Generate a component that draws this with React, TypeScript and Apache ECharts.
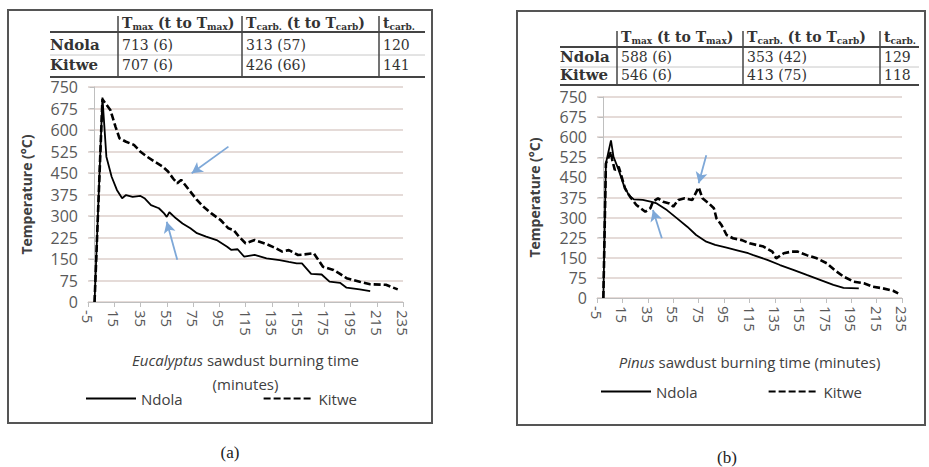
import React, { useEffect, useRef } from "react";
import * as echarts from "echarts";

// ---------- data ----------
const xTicksMin = -5;
const xTicksMax = 235;
const xTickStep = 20;
const yMin = 0;
const yMax = 750;
const yStep = 75;

// Eucalyptus sawdust (panel a): [minutes, °C]
const eucNdola: number[][] = [
  [0, 0], [6, 713], [9, 507], [13, 437], [17, 391], [21, 362], [24, 373], [29, 367], [35, 370],
  [38, 362], [43, 338], [49, 327], [53, 309], [55, 297], [57, 313], [62, 292], [67, 274],
  [73, 257], [78, 240], [85, 228], [93, 216], [101, 193], [104, 182], [109, 184], [114, 158],
  [122, 164], [131, 152], [141, 146], [148, 140], [154, 135], [158, 135], [165, 98], [173, 96],
  [179, 71], [187, 67], [192, 50], [202, 44], [210, 38],
];
const eucKitwe: number[][] = [
  [0, 0], [6, 707], [12, 670], [16, 611], [19, 571], [24, 559], [30, 548], [35, 524], [40, 507],
  [46, 489], [52, 472], [56, 455], [60, 430], [63, 414], [66, 426], [72, 391], [78, 356],
  [83, 332], [89, 309], [96, 286], [102, 257], [106, 251], [110, 228], [115, 205], [122, 216],
  [131, 202], [137, 190], [143, 176], [148, 181], [155, 164], [160, 166], [167, 170], [174, 123],
  [182, 112], [187, 98], [192, 83], [202, 71], [210, 62], [222, 60], [231, 44],
];

// Pinus sawdust (panel b): [minutes, °C]
const pinNdola: number[][] = [
  [0, 0], [2, 502], [6, 588], [8, 527], [12, 478], [16, 422], [20, 384], [24, 368], [31, 366],
  [38, 359], [42, 353], [50, 328], [58, 297], [66, 266], [73, 235], [81, 210], [88, 198],
  [97, 188], [106, 177], [114, 167], [118, 160], [129, 142], [139, 123], [150, 104], [160, 86],
  [171, 67], [181, 49], [189, 38], [201, 36],
];
const pinKitwe: number[][] = [
  [0, 0], [2, 502], [6, 546], [7, 515], [9, 478], [12, 490], [14, 459], [17, 409], [21, 378],
  [26, 347], [33, 322], [37, 335], [39, 359], [43, 372], [47, 359], [52, 353], [55, 341],
  [59, 366], [64, 372], [70, 366], [75, 413], [78, 372], [83, 353], [87, 335], [89, 297],
  [93, 272], [97, 235], [102, 223], [109, 216], [115, 204], [126, 192], [133, 173], [136, 148],
  [142, 167], [148, 173], [153, 173], [160, 160], [168, 148], [176, 129], [182, 104], [189, 80],
  [197, 61], [205, 55], [212, 42], [220, 36], [228, 27], [232, 17],
];

// annotation arrows in data coordinates: [tailT, tailTemp, headT, headTemp]
const eucArrows: number[][] = [
  [102, 542, 74, 449],
  [63, 147, 55, 280],
];
const pinArrows: number[][] = [
  [81, 533, 75, 428],
  [46, 223, 39, 328],
];

const seriesNames = ["Ndola", "Kitwe"];

// summary tables
const tableHeaders = ["T_max (t to T_max)", "T_carb. (t to T_carb)", "t_carb."];
const eucTable = [
  ["Ndola", "713 (6)", "313 (57)", "120"],
  ["Kitwe", "707 (6)", "426 (66)", "141"],
];
const pinTable = [
  ["Ndola", "588 (6)", "353 (42)", "129"],
  ["Kitwe", "546 (6)", "413 (75)", "118"],
];

const eucXName = "{i|Eucalyptus} sawdust burning time\n(minutes)";
const pinXName = "{i|Pinus} sawdust burning time (minutes)";
const yName = "Temperature (°C)";

// ---------- helpers ----------
const SANS = "Open Sans";
const SERIF = "DejaVu Serif";
const LABEL = "#595959";
const AXIS = "#bfbfbf";
const GRIDC = "#dccfcb";
const ARROW = "#7ea8d8";

function headerRich(h: string): string {
  const parts = h.split(/(_[a-z.]+)/);
  return parts
    .filter((p) => p.length > 0)
    .map((p) => (p.startsWith("_") ? `{s|${p.slice(1)}}` : `{b|${p}}`))
    .join("");
}

function tableGraphics(
  x0: number,
  vx: number[],
  right: number,
  yTop: number,
  yHead: number,
  yRows: number[],
  yLines: number[],
  rows: string[][]
): any[] {
  const els: any[] = [];
  const rich = {
    b: { fontFamily: SERIF, fontSize: 14, fontWeight: "bold", fill: "#333", lineHeight: 18, verticalAlign: "middle" },
    s: { fontFamily: SERIF, fontSize: 9, fontWeight: "bold", fill: "#333", lineHeight: 18, verticalAlign: "bottom", padding: [0, 0, 1, 0] },
  };
  tableHeaders.forEach((h, i) => {
    els.push({
      type: "text",
      x: vx[i] + 4,
      y: yHead,
      style: { text: headerRich(h), rich, textVerticalAlign: "middle", verticalAlign: "middle" },
    });
  });
  rows.forEach((r, ri) => {
    r.forEach((cell, ci) => {
      els.push({
        type: "text",
        x: ci === 0 ? x0 : vx[ci - 1] + 4,
        y: yRows[ri],
        style: {
          text: cell,
          fontFamily: SERIF,
          fontSize: ci === 0 ? 15 : 14,
          fontWeight: ci === 0 ? "bold" : "normal",
          fill: "#333",
          textVerticalAlign: "middle",
          verticalAlign: "middle",
        },
      });
    });
  });
  els.push({ type: "line", shape: { x1: x0, y1: yLines[0], x2: right, y2: yLines[0] }, style: { stroke: "#444", lineWidth: 2 } });
  els.push({ type: "line", shape: { x1: x0, y1: yLines[1], x2: right, y2: yLines[1] }, style: { stroke: "#c8c8c8", lineWidth: 1 } });
  els.push({ type: "line", shape: { x1: x0, y1: yLines[2], x2: right, y2: yLines[2] }, style: { stroke: "#444", lineWidth: 2 } });
  vx.forEach((x) => {
    els.push({ type: "line", shape: { x1: x, y1: yTop, x2: x, y2: yLines[2] }, style: { stroke: "#444", lineWidth: 1.5 } });
  });
  return els;
}

function xAxisOf(gridIndex: number, name: string, nameGap: number): any {
  return {
    type: "value",
    gridIndex,
    min: xTicksMin,
    max: xTicksMax,
    interval: xTickStep,
    name,
    nameLocation: "middle",
    nameGap,
    nameTextStyle: {
      fontFamily: SANS,
      fontSize: 15,
      color: "#404040",
      lineHeight: 24,
      rich: { i: { fontFamily: SANS, fontSize: 15, fontStyle: "italic", color: "#404040", lineHeight: 24 } },
    },
    axisLine: { show: true, onZero: true, lineStyle: { color: AXIS, width: 1 } },
    axisTick: { show: true, length: 5, lineStyle: { color: AXIS } },
    axisLabel: { rotate: -90, color: LABEL, fontFamily: SANS, fontSize: 15, margin: 8 },
    splitLine: { show: false },
  };
}

function yAxisOf(gridIndex: number, nameGap: number): any {
  return {
    type: "value",
    gridIndex,
    min: yMin,
    max: yMax,
    interval: yStep,
    name: yName,
    nameLocation: "middle",
    nameGap,
    nameTextStyle: { fontFamily: SANS, fontSize: 14, fontWeight: "bold", color: "#404040" },
    axisLine: { show: true, onZero: true, lineStyle: { color: AXIS, width: 1 } },
    axisTick: { show: true, length: 5, lineStyle: { color: AXIS } },
    axisLabel: { color: LABEL, fontFamily: SANS, fontSize: 16, margin: 10 },
    splitLine: { show: true, lineStyle: { color: GRIDC, width: 1.5 } },
  };
}

function arrowMarks(arrows: number[][]): any {
  return {
    silent: true,
    symbol: ["none", "arrow"],
    symbolSize: [9, 11],
    label: { show: false },
    lineStyle: { color: ARROW, width: 1.8, type: "solid" },
    data: arrows.map((a) => [{ coord: [a[0], a[1]] }, { coord: [a[2], a[3]] }]),
  };
}

function lineSeries(name: string, data: number[][], idx: number, dashed: boolean, arrows?: number[][]): any {
  return {
    type: "line",
    name,
    xAxisIndex: idx,
    yAxisIndex: idx,
    data,
    symbol: "none",
    showSymbol: false,
    color: "#000",
    lineStyle: dashed ? { color: "#000", width: 2.6, type: [7, 3] } : { color: "#000", width: 1.8 },
    markLine: arrows ? arrowMarks(arrows) : undefined,
    z: 3,
  };
}

export default function App() {
  const ref = useRef<HTMLDivElement>(null);
  useEffect(() => {
    if (!ref.current) return;
    const chart = echarts.init(ref.current, undefined, { renderer: "svg" });
    const legendBase = {
      data: seriesNames,
      orient: "horizontal",
      padding: 0,
      itemWidth: 50,
      itemHeight: 14,
      itemStyle: { opacity: 0 },
      textStyle: { fontFamily: SANS, fontSize: 15, color: "#404040" },
      selectedMode: false,
    };
    const option: any = {
      animation: false,
      backgroundColor: "#ffffff",
      textStyle: { fontFamily: SANS },
      grid: [
        { left: 88, top: 87, width: 315, height: 215, containLabel: false, outerBoundsMode: "none" },
        { left: 597, top: 97, width: 305, height: 201, containLabel: false, outerBoundsMode: "none" },
      ],
      xAxis: [xAxisOf(0, eucXName, 46), xAxisOf(1, pinXName, 52)],
      yAxis: [yAxisOf(0, 55), yAxisOf(1, 56)],
      legend: [
        { ...legendBase, left: 85, top: 391, itemGap: 80 },
        { ...legendBase, left: 600, top: 384, itemGap: 70 },
      ],
      series: [
        lineSeries(seriesNames[0], eucNdola, 0, false),
        lineSeries(seriesNames[1], eucKitwe, 0, true, eucArrows),
        lineSeries(seriesNames[0], pinNdola, 1, false),
        lineSeries(seriesNames[1], pinKitwe, 1, true, pinArrows),
      ],
      graphic: [
        { type: "rect", shape: { x: 8, y: 10, width: 424, height: 413 }, style: { fill: "none", stroke: "#555", lineWidth: 2 }, z: -1 },
        { type: "rect", shape: { x: 517, y: 11, width: 408, height: 414 }, style: { fill: "none", stroke: "#555", lineWidth: 2 }, z: -1 },
        ...tableGraphics(50, [118, 242, 379], 425, 16, 23, [45, 65], [32, 55, 77], eucTable),
        ...tableGraphics(560, [617, 743, 880], 919, 31, 37, [57, 75], [47, 67, 85], pinTable),
        { type: "text", x: 230, y: 452, style: { text: "(a)", fontFamily: "Liberation Serif", fontSize: 17, fill: "#222", textAlign: "center", align: "center", textVerticalAlign: "middle", verticalAlign: "middle" } },
        { type: "text", x: 727, y: 457, style: { text: "(b)", fontFamily: "Liberation Serif", fontSize: 17, fill: "#222", textAlign: "center", align: "center", textVerticalAlign: "middle", verticalAlign: "middle" } },
      ],
    };
    chart.setOption(option);
    return () => chart.dispose();
  }, []);
  return <div ref={ref} style={{ position: "absolute", left: 0, top: 0, width: 929, height: 467 }} />;
}
